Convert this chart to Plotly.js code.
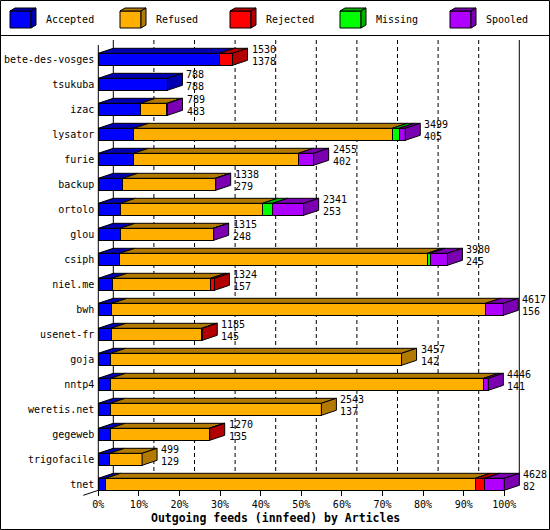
<!DOCTYPE html>
<html><head><meta charset="utf-8">
<script src="https://cdn.plot.ly/plotly-3.0.1.min.js"></script>
<style>html,body{margin:0;padding:0;background:#fff}#chart{width:550px;height:530px}</style>
</head><body><div id="chart"></div>
<script>
// ---- data ----
const categories = ["bete-des-vosges","tsukuba","izac","lysator","furie","backup","ortolo","glou","csiph","niel.me","bwh","usenet-fr","goja","nntp4","weretis.net","gegeweb","trigofacile","tnet"];
const offered  = [1530,788,789,3499,2455,1338,2341,1315,3980,1324,4617,1185,3457,4446,2543,1270,499,4628];
const accepted = [1378,788,483,405,402,279,253,248,245,157,156,145,142,141,137,135,129,82];
const refused  = [0,0,300,2946,1878,1053,1621,1060,3505,1124,4260,1034,3315,4252,2406,1129,370,4215];
const rejected = [152,0,0,0,0,0,0,0,0,43,0,6,0,0,0,6,0,108];
const missing  = [0,0,0,80,0,0,114,0,31,0,0,0,0,0,0,0,0,0];
const spooled  = [0,0,6,68,175,6,353,7,199,0,201,0,0,53,0,0,0,223];
const seriesNames = ["Accepted","Refused","Rejected","Missing","Spooled"];
const tickValues = [0,10,20,30,40,50,60,70,80,90,100];
const tickLabels = ["0%","10%","20%","30%","40%","50%","60%","70%","80%","90%","100%"];
const chartTitle = "Outgoing feeds (innfeed) by Articles";

// ---- style ----
const frontColors = ["#0000FF","#FFAF00","#FF0000","#00FF00","#AF00FF"];
const shadeColors = ["#0000B2","#B27A00","#B20000","#00B200","#7A00B2"];
const FONT = {family:"DejaVu Sans Mono, Liberation Mono, monospace", size:10, color:"#000"};
const W=550, H=530, M={l:80,r:25,t:36,b:30};
const X0=98.3, PXX=4.06, Y0=59.3, PXY=25;
const DX=15/PXX, DY=5/PXY, HALF=6/PXY;
const xr=[(M.l-X0)/PXX,(W-M.r-X0)/PXX];
const yr=[(H-M.b-Y0)/PXY,(M.t-Y0)/PXY];
const pw=W-M.l-M.r, ph=H-M.t-M.b;
const px2x=p=>(p-M.l)/pw, py2y=p=>(H-M.b-p)/ph;

const series=[accepted,refused,rejected,missing,spooled];
const n=categories.length;
const idx=categories.map((_,i)=>i);
const maxTotal=Math.max(...categories.map((_,i)=>series.reduce((a,s)=>a+s[i],0)));
const pct=v=>v/maxTotal*100;

const traces=[];
series.forEach((s,k)=>{
  traces.push({type:'bar',orientation:'h',y:idx,x:s.map(v=>v>0?pct(v):null),
    width:2*HALF,marker:{color:frontColors[k],line:{color:'#000',width:1}},
    hoverinfo:'skip',showlegend:false,name:seriesNames[k]});
});
const tops=series.map(()=>({x:[],y:[]}));
const sides=series.map(()=>({x:[],y:[]}));
const ends=[];
for(let i=0;i<n;i++){
  let cum=0,last=-1,lastEnd=0;
  const yT=i-HALF, yB=i+HALF;
  series.forEach((s,k)=>{
    const v=s[i]; if(!(v>0)) return;
    const x0=pct(cum), x1=pct(cum+v);
    tops[k].x.push(x0,x1,x1+DX,x0+DX,x0,null);
    tops[k].y.push(yT,yT,yT-DY,yT-DY,yT,null);
    cum+=v; last=k; lastEnd=x1;
  });
  if(last>=0){
    sides[last].x.push(lastEnd,lastEnd,lastEnd+DX,lastEnd+DX,lastEnd,null);
    sides[last].y.push(yT,yB,yB-DY,yT-DY,yT,null);
  }
  ends.push(lastEnd);
}
[tops,sides].forEach(arr=>arr.forEach((p,k)=>{
  if(p.x.length) traces.push({type:'scatter',mode:'lines',x:p.x,y:p.y,fill:'toself',
    fillcolor:shadeColors[k],line:{color:'#000',width:1},hoverinfo:'skip',showlegend:false});
}));

const annotations=[];
for(let i=0;i<n;i++){
  annotations.push({x:ends[i]+DX,y:i,xref:'x',yref:'y',text:String(offered[i]),showarrow:false,
    xanchor:'left',yanchor:'middle',xshift:3,yshift:9.5,font:FONT,borderpad:0});
  annotations.push({x:ends[i]+DX,y:i,xref:'x',yref:'y',text:String(accepted[i]),showarrow:false,
    xanchor:'left',yanchor:'middle',xshift:3,yshift:-1.7,font:FONT,borderpad:0});
}
annotations.push({x:px2x(275),y:py2y(518),xref:'paper',yref:'paper',text:'<b>'+chartTitle+'</b>',
  showarrow:false,xanchor:'center',yanchor:'middle',font:Object.assign({},FONT,{size:11.5})});

const shapes=[];
const backTop=(40-Y0)/PXY, backBot=(n-1)+HALF-DY;
tickValues.forEach(v=>{
  const solid=(v===0||v===100);
  shapes.push({type:'line',xref:'x',yref:'y',x0:v+DX,x1:v+DX,y0:backTop,y1:backBot,layer:'below',
    line:{color:'#000',width:1,dash:solid?'solid':'4px,3px'}});
});
shapes.push({type:'line',xref:'x',yref:'y',x0:0,x1:0,y0:backTop+DY,y1:(n-1)+HALF,layer:'below',line:{color:'#000',width:1}});
shapes.push({type:'line',xref:'x',yref:'y',x0:0,x1:-DX,y0:(n-1)+HALF,y1:(n-1)+HALF+DY,layer:'below',line:{color:'#000',width:1}});
// legend box and outer frame
shapes.push({type:'rect',xref:'paper',yref:'paper',x0:px2x(0.5),x1:px2x(549.5),y0:py2y(0.5),y1:py2y(529.5),line:{color:'#000',width:1}});
shapes.push({type:'line',xref:'paper',yref:'paper',x0:px2x(0),x1:px2x(550),y0:py2y(35.5),y1:py2y(35.5),line:{color:'#000',width:1}});
const P=(pts)=>'M'+pts.map(p=>px2x(p[0])+','+py2y(p[1])).join(' L')+' Z';
seriesNames.forEach((nm,k)=>{
  const x0=10+110*k, x1=x0+21, yt=11, yb=28, d=5, e=3;
  shapes.push({type:'path',xref:'paper',yref:'paper',path:P([[x0,yt],[x1,yt],[x1,yb],[x0,yb]]),fillcolor:frontColors[k],line:{color:'#000',width:1}});
  shapes.push({type:'path',xref:'paper',yref:'paper',path:P([[x0,yt],[x1,yt],[x1+d,yt-e],[x0+d,yt-e]]),fillcolor:shadeColors[k],line:{color:'#000',width:1}});
  shapes.push({type:'path',xref:'paper',yref:'paper',path:P([[x1,yt],[x1+d,yt-e],[x1+d,yb-e],[x1,yb]]),fillcolor:shadeColors[k],line:{color:'#000',width:1}});
  annotations.push({x:px2x(x1+d+9),y:py2y(20),xref:'paper',yref:'paper',text:nm,showarrow:false,
    xanchor:'left',yanchor:'middle',font:FONT,borderpad:0});
});

const layout={width:W,height:H,margin:M,paper_bgcolor:'#fff',plot_bgcolor:'#fff',
  barmode:'stack',bargap:0,showlegend:false,font:FONT,
  xaxis:{range:xr,anchor:'free',position:py2y(490.3),tickvals:tickValues,ticktext:tickLabels,
    ticks:'outside',ticklen:5,tickcolor:'#000',tickwidth:1,showgrid:false,zeroline:false,showline:false,
    tickfont:FONT,fixedrange:true},
  yaxis:{range:yr,anchor:'free',position:px2x(X0),tickvals:idx,ticktext:categories,ticks:'',
    ticklabelstandoff:4,showgrid:false,zeroline:false,showline:false,tickfont:FONT,fixedrange:true},
  shapes:shapes,annotations:annotations};
Plotly.newPlot('chart',traces,layout,{displayModeBar:false,staticPlot:true});
</script></body></html>
